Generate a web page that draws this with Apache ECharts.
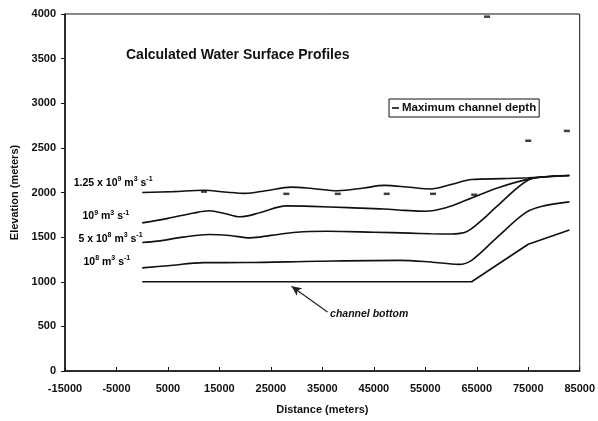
<!DOCTYPE html>
<html><head><meta charset="utf-8">
<script src="https://cdn.jsdelivr.net/npm/echarts@6/dist/echarts.min.js"></script>
<style>html,body{margin:0;padding:0;background:#fff}#c{width:598px;height:421px}</style>
</head><body><div id="c"></div>
<script>
// ---- data ----
const xTicksMin = -15000, xTicksMax = 85000, xStep = 10000;
const yTicksMin = 0, yTicksMax = 4000, yStep = 500;

const q125X = [0, 6000, 12000, 16000, 20000, 24000, 29000, 33000, 38000, 43000, 47000, 52000, 56000, 60000, 64000, 70000, 75000, 83000];
const q125Y = [2000, 2010, 2025, 2005, 1990, 2020, 2060, 2045, 2020, 2050, 2080, 2058, 2040, 2090, 2145, 2155, 2165, 2190];

const q100X = [0, 5000, 10000, 13000, 16000, 19000, 23000, 28000, 33000, 40000, 47000, 51000, 55000, 59000, 63000, 69000, 75000, 79000, 83000];
const q100Y = [1660, 1710, 1770, 1795, 1765, 1728, 1775, 1850, 1845, 1830, 1815, 1800, 1790, 1830, 1915, 2050, 2150, 2180, 2190];

const q50X = [0, 3000, 8000, 13000, 17000, 21000, 25000, 30000, 36000, 45000, 52000, 56000, 60000, 63000, 66000, 69000, 75000, 79000, 83000];
const q50Y = [1440, 1455, 1500, 1530, 1518, 1492, 1520, 1555, 1565, 1555, 1545, 1538, 1535, 1560, 1690, 1850, 2140, 2180, 2190];

const q10X = [0, 5000, 12000, 20000, 34000, 50000, 56000, 61500, 64000, 69000, 74500, 78000, 83000];
const q10Y = [1155, 1180, 1214, 1215, 1230, 1240, 1222, 1195, 1240, 1500, 1775, 1850, 1895];

const bedX = [0, 64000, 75000, 83000];
const bedY = [1000, 1000, 1420, 1580];

const maxDepthX = [12000, 28000, 38000, 47500, 56500, 64500, 75000, 82500, 67000];
const maxDepthY = [2010, 1985, 1985, 1985, 1985, 1975, 2580, 2690, 3970];

const titleText = 'Calculated Water Surface Profiles';
const legendText = 'Maximum channel depth';
const xName = 'Distance (meters)';
const yName = 'Elevation (meters)';
const bedLabel = 'channel bottom';
const arrowFrom = [36000, 660], arrowTo = [29000, 950];
const bedLabelPos = [36500, 625];

// labels: text parts alternate base / superscript, anchored at data point (left edge)
const seriesLabels = [
  {pos: [-13300, 2107], parts: ['1.25 x 10', '9', ' m', '3', ' s', '-1']},
  {pos: [-11600, 1733], parts: ['10', '9', ' m', '3', ' s', '-1']},
  {pos: [-12400, 1483], parts: ['5 x 10', '8', ' m', '3', ' s', '-1']},
  {pos: [-11400, 1222], parts: ['10', '8', ' m', '3', ' s', '-1']}
];

const zip = (a, b) => a.map((v, i) => [v, b[i]]);

const chart = echarts.init(document.getElementById('c'));
const FONT = 'Liberation Sans, Arial, sans-serif';
const lineStyle = {color: '#111', width: 1.6};
const mkLine = (name, xs, ys, smooth) => ({
  name, type: 'line', data: zip(xs, ys), smooth: smooth, showSymbol: false,
  symbol: 'none', lineStyle, silent: true, z: 3
});

chart.setOption({
  animation: false,
  backgroundColor: '#fff',
  title: {text: titleText, left: 126, top: 48, padding: 0, textStyle: {fontFamily: FONT, fontSize: 14, fontWeight: 'bold', color: '#111'}},
  legend: {
    data: [{name: legendText, icon: 'rect'}],
    left: 389, top: 99, itemWidth: 7, itemHeight: 2, itemGap: 4,
    borderColor: '#111', borderWidth: 1, padding: [3, 3, 3, 3],
    textStyle: {fontFamily: FONT, fontSize: 11.5, fontWeight: 'bold', color: '#111', padding: [0, 0, 0, -2]}
  },
  grid: {left: 65, right: 16, top: 14, bottom: 50, show: true, borderColor: '#111', borderWidth: 1},
  xAxis: {
    type: 'value', min: xTicksMin, max: xTicksMax, interval: xStep,
    name: xName, nameLocation: 'middle', nameGap: 33,
    nameTextStyle: {fontFamily: FONT, fontSize: 11, fontWeight: 'bold', color: '#111'},
    axisLine: {onZero: false, lineStyle: {color: '#111', width: 1.5}},
    axisTick: {inside: true, length: 4, lineStyle: {color: '#111'}},
    axisLabel: {fontFamily: FONT, fontSize: 11, fontWeight: 'bold', color: '#111', margin: 12, formatter: v => String(v)},
    splitLine: {show: false}
  },
  yAxis: {
    type: 'value', min: yTicksMin, max: yTicksMax, interval: yStep,
    name: yName, nameLocation: 'middle', nameGap: 38,
    nameTextStyle: {fontFamily: FONT, fontSize: 11, fontWeight: 'bold', color: '#111'},
    axisLine: {show: true, onZero: false, lineStyle: {color: '#111', width: 1.5}},
    axisTick: {show: true, length: 4, lineStyle: {color: '#111'}},
    axisLabel: {fontFamily: FONT, fontSize: 11, fontWeight: 'bold', color: '#111', margin: 9, formatter: v => String(v)},
    splitLine: {show: false}
  },
  series: [
    mkLine('q125', q125X, q125Y, 0.35),
    mkLine('q100', q100X, q100Y, 0.35),
    mkLine('q50', q50X, q50Y, 0.35),
    mkLine('q10', q10X, q10Y, 0.35),
    Object.assign(mkLine('bed', bedX, bedY, false), {
      markLine: {
        silent: true, symbol: ['none', 'arrow'], symbolSize: [7, 10],
        label: {show: false},
        lineStyle: {color: '#222', width: 1.2, type: 'solid'},
        data: [[{coord: arrowFrom}, {coord: arrowTo}]]
      }
    }),
    {
      name: legendText, type: 'scatter', data: zip(maxDepthX, maxDepthY),
      symbol: 'rect', symbolSize: [6, 2.5], itemStyle: {color: '#111'}, z: 4
    }
  ]
});

function addLabels() {
  const g = [];
  const sup = {fontSize: 7, fontWeight: 'bold', fontFamily: FONT, color: '#111', verticalAlign: 'top', lineHeight: 14, padding: [0, 0, 6, 0]};
  const base = {fontSize: 10.5, fontWeight: 'bold', fontFamily: FONT, color: '#111', lineHeight: 14};
  seriesLabels.forEach(l => {
    const p = chart.convertToPixel({gridIndex: 0}, l.pos);
    const txt = l.parts.map((s, i) => (i % 2 === 0 ? '{b|' : '{s|') + s + '}').join('');
    g.push({type: 'text', left: p[0], top: p[1] - 7, style: {text: txt, rich: {b: base, s: sup}}});
  });
  const bp = chart.convertToPixel({gridIndex: 0}, bedLabelPos);
  g.push({type: 'text', left: bp[0], top: bp[1] - 7, style: {text: bedLabel, fontFamily: FONT, fontSize: 10.5, fontStyle: 'italic', fontWeight: 'bold', fill: '#111'}});
  chart.setOption({graphic: g});
}
addLabels();
</script></body></html>
